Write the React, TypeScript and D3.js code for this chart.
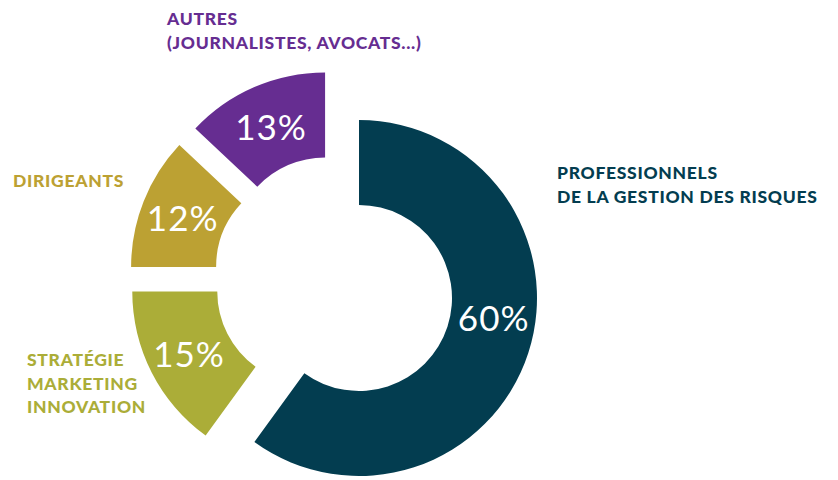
import React from "react";
import * as d3 from "d3";

const categories = ["PROFESSIONNELS|DE LA GESTION DES RISQUES", "STRATÉGIE|MARKETING|INNOVATION", "DIRIGEANTS", "AUTRES|(JOURNALISTES, AVOCATS...)"];
const values = [60, 15, 12, 13];
const valueLabels = ["60%", "15%", "12%", "13%"];
const colors = ["#033d50", "#abad38", "#bca133", "#662d91"];

const W = 838;
const H = 480;
const CX = 359;
const CY = 298;
const R_OUT = 178;
const R_IN = 93;
const GROUP_SHIFT = [-22, -20];
const EXPLODE = 30;
const BIG_LABEL_ANGLE = (98 * Math.PI) / 180;

// category label anchor positions (x, first baseline y)
const labelPos: [number, number][] = [
  [557, 179],
  [27, 366],
  [13, 187],
  [167, 25],
];

export default function App() {
  const pie = d3.pie<number>().value((d) => d).sort(null);
  const arcs = pie(values);
  const arc = d3.arc<d3.PieArcDatum<number>>().innerRadius(R_IN).outerRadius(R_OUT);
  const labelR = 136;

  return (
    <svg width={W} height={H} style={{ position: "absolute", left: 0, top: 0, background: "#fff" }}>
      {arcs.map((a, i) => {
        const mid = (a.startAngle + a.endAngle) / 2;
        let dx = 0;
        let dy = 0;
        if (i > 0) {
          dx = GROUP_SHIFT[0] + EXPLODE * Math.sin(mid);
          dy = GROUP_SHIFT[1] - EXPLODE * Math.cos(mid);
        }
        const la = i === 0 ? BIG_LABEL_ANGLE : mid;
        const lx = labelR * Math.sin(la);
        const ly = -labelR * Math.cos(la);
        return (
          <g key={i} transform={`translate(${CX + dx},${CY + dy})`}>
            <path d={arc(a) || ""} fill={colors[i]} />
            <text
              x={lx}
              y={ly}
              textAnchor="middle"
              dominantBaseline="central"
              fill="#fff"
              fontFamily="Lato, 'Open Sans', sans-serif"
              fontSize={35}
              fontWeight={400}
              letterSpacing={1}
            >
              {valueLabels[i]}
            </text>
          </g>
        );
      })}
      {categories.map((c, i) => (
        <text
          key={"c" + i}
          x={labelPos[i][0]}
          y={labelPos[i][1]}
          fill={colors[i]}
          fontFamily="Lato, 'Open Sans', sans-serif"
          fontSize={17.5}
          fontWeight={900}
          letterSpacing={0.7}
        >
          {c.split("|").map((line, j) => (
            <tspan key={j} x={labelPos[i][0]} dy={j === 0 ? 0 : 23.5}>
              {line}
            </tspan>
          ))}
        </text>
      ))}
    </svg>
  );
}
